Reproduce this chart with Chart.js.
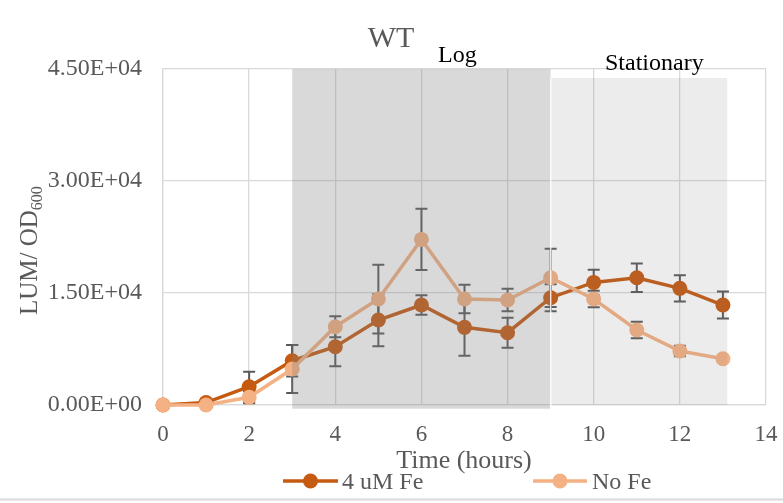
<!DOCTYPE html>
<html>
<head>
<meta charset="utf-8">
<script src="https://cdn.jsdelivr.net/npm/chart.js@4.4.1/dist/chart.umd.min.js"></script>
<style>
  html, body { margin: 0; padding: 0; background: #fff; }
  #wrap { width: 783px; height: 503px; }
</style>
</head>
<body>
<div id="wrap"><canvas id="wtChart" width="783" height="503"></canvas></div>
<script>
// time points (hours)
const hours = [0, 1, 2, 3, 4, 5, 6, 7, 8, 9, 10, 11, 12, 13];

// 4 uM Fe
const fe4Values = [0, 330, 2450, 5930, 7800, 11380, 13390, 10400, 9680, 14370, 16420, 17040, 15620, 13390];
const fe4Err    = [0, 0, 2000, 2100, 2600, 3500, 1300, 3800, 2000, 1800, 1700, 1900, 1750, 1800];

// No Fe
const noFeValues = [0, 0, 1030, 4820, 10480, 14190, 22180, 14190, 14060, 17040, 14190, 10040, 7230, 6200];
const noFeErr    = [0, 0, 800, 3200, 1400, 4600, 4100, 1900, 1500, 3900, 1100, 1100, 700, 300];

// growth phases: [start hour, end hour, top value, bottom value]
const logPhase = [3, 9, 45000, -500];
const stationaryPhase = [9, 13.1, 43800, 0];

const xTicks = [0, 2, 4, 6, 8, 10, 12, 14];
const yTicks = [0, 15000, 30000, 45000];

const serif = '"Liberation Serif", "Times New Roman", serif';
const greyText = '#595959';
const darkOrange = '#C55A11';
const lightOrange = '#F4B183';

function sciLabel(v) {
    if (v === 0) return '0.00E+00';
    const e = Math.floor(Math.log10(Math.abs(v)));
    const m = v / Math.pow(10, e);
    return m.toFixed(2) + 'E' + (e < 0 ? '-' : '+') + String(Math.abs(e)).padStart(2, '0');
}

function toPoints(vals) {
    return hours.map(function (h, i) { return { x: h, y: vals[i] }; });
}

const errorBars = {
    id: 'errorBars',
    beforeDatasetsDraw: function (chart) {
        const ctx = chart.ctx;
        const xs = chart.scales.x, ys = chart.scales.y;
        const sets = [[fe4Values, fe4Err], [noFeValues, noFeErr]];
        ctx.save();
        ctx.strokeStyle = greyText;
        ctx.lineWidth = 2;
        sets.forEach(function (s) {
            hours.forEach(function (h, i) {
                const err = s[1][i];
                if (!err) return;
                const px = xs.getPixelForValue(h);
                const top = ys.getPixelForValue(s[0][i] + err);
                const bot = ys.getPixelForValue(s[0][i] - err);
                ctx.beginPath();
                ctx.moveTo(px, top); ctx.lineTo(px, bot);
                ctx.moveTo(px - 6, top); ctx.lineTo(px + 6, top);
                ctx.moveTo(px - 6, bot); ctx.lineTo(px + 6, bot);
                ctx.stroke();
            });
        });
        ctx.restore();
    }
};

const phaseShading = {
    id: 'phaseShading',
    afterDatasetsDraw: function (chart) {
        const ctx = chart.ctx;
        const xs = chart.scales.x, ys = chart.scales.y;
        function band(p, color) {
            const x0 = xs.getPixelForValue(p[0]);
            const x1 = xs.getPixelForValue(p[1]);
            const y0 = ys.getPixelForValue(p[2]);
            const y1 = ys.getPixelForValue(p[3]);
            ctx.fillStyle = color;
            ctx.fillRect(x0, y0, x1 - x0, y1 - y0);
        }
        ctx.save();
        band(logPhase, 'rgba(128,128,128,0.3)');
        band(stationaryPhase, 'rgba(128,128,128,0.15)');
        // thin white seam between the two phases
        const xs9 = xs.getPixelForValue(stationaryPhase[0]);
        ctx.fillStyle = '#fff';
        ctx.fillRect(xs9 - 0.5, ys.getPixelForValue(stationaryPhase[2]), 1.2,
            ys.getPixelForValue(logPhase[3]) - ys.getPixelForValue(stationaryPhase[2]));
        ctx.restore();
    }
};

const annotations = {
    id: 'annotations',
    afterDraw: function (chart) {
        const ctx = chart.ctx;
        ctx.save();

        // title
        ctx.fillStyle = greyText;
        ctx.font = '30px ' + serif;
        ctx.textAlign = 'center';
        ctx.textBaseline = 'alphabetic';
        ctx.fillText('WT', 391, 47);

        // phase labels
        ctx.fillStyle = '#000';
        ctx.font = '24px ' + serif;
        ctx.textAlign = 'left';
        ctx.fillText('Log', 438, 62);
        ctx.fillText('Stationary', 605, 70);

        // x axis title
        ctx.fillStyle = greyText;
        ctx.font = '26px ' + serif;
        ctx.textAlign = 'center';
        ctx.fillText('Time (hours)', 464, 468);

        // y axis title with subscript
        ctx.save();
        ctx.translate(37, 315);
        ctx.rotate(-Math.PI / 2);
        ctx.textAlign = 'left';
        ctx.font = '25px ' + serif;
        const main = 'LUM/ OD';
        ctx.fillText(main, 0, 0);
        const w = ctx.measureText(main).width;
        ctx.font = '16px ' + serif;
        ctx.fillText('600', w, 5);
        ctx.restore();

        // legend
        const items = [
            { label: '4 uM Fe', color: darkOrange, x0: 283, x1: 338, tx: 342 },
            { label: 'No Fe', color: lightOrange, x0: 533, x1: 587, tx: 592 }
        ];
        ctx.font = '24px ' + serif;
        ctx.textAlign = 'left';
        items.forEach(function (it) {
            ctx.strokeStyle = it.color;
            ctx.lineWidth = 3.5;
            ctx.beginPath();
            ctx.moveTo(it.x0, 481); ctx.lineTo(it.x1, 481);
            ctx.stroke();
            ctx.fillStyle = it.color;
            ctx.beginPath();
            ctx.arc((it.x0 + it.x1) / 2, 481, 7.5, 0, Math.PI * 2);
            ctx.fill();
            ctx.fillStyle = greyText;
            ctx.fillText(it.label, it.tx, 489);
        });

        // outer frame line at the bottom
        ctx.fillStyle = '#D9D9D9';
        ctx.fillRect(0, 498.5, 783, 2);

        ctx.restore();
    }
};

const ctx = document.getElementById('wtChart').getContext('2d');

new Chart(ctx, {
    type: 'line',
    data: {
        datasets: [
            {
                label: '4 uM Fe',
                data: toPoints(fe4Values),
                borderColor: darkOrange,
                backgroundColor: darkOrange,
                borderWidth: 3.5,
                pointRadius: 7.5,
                pointBorderWidth: 0,
                pointBackgroundColor: darkOrange,
                tension: 0,
                clip: false,
                order: 1
            },
            {
                label: 'No Fe',
                data: toPoints(noFeValues),
                borderColor: lightOrange,
                backgroundColor: lightOrange,
                borderWidth: 3.5,
                pointRadius: 7.5,
                pointBorderWidth: 0,
                pointBackgroundColor: lightOrange,
                tension: 0,
                clip: false,
                order: 0
            }
        ]
    },
    options: {
        responsive: false,
        animation: false,
        layout: {
            padding: { top: 69, right: 17, bottom: 0, left: 0 }
        },
        plugins: {
            legend: { display: false },
            title: { display: false },
            tooltip: { enabled: false }
        },
        scales: {
            x: {
                type: 'linear',
                min: 0,
                max: 14,
                afterBuildTicks: function (scale) {
                    scale.ticks = xTicks.map(function (v) { return { value: v }; });
                },
                afterFit: function (scale) {
                    scale.height = 98;
                    scale.paddingLeft = 0;
                    scale.paddingRight = 0;
                },
                ticks: {
                    color: greyText,
                    font: { family: serif, size: 23 },
                    padding: 16,
                    maxRotation: 0
                },
                grid: {
                    color: '#D9D9D9',
                    lineWidth: 1.3,
                    drawTicks: false
                },
                border: { color: '#D9D9D9', width: 1.3 }
            },
            y: {
                min: 0,
                max: 45000,
                afterBuildTicks: function (scale) {
                    scale.ticks = yTicks.map(function (v) { return { value: v }; });
                },
                afterFit: function (scale) {
                    scale.width = 163;
                    scale.paddingTop = 0;
                    scale.paddingBottom = 0;
                },
                ticks: {
                    color: greyText,
                    font: { family: serif, size: 24 },
                    padding: 21,
                    callback: function (v) { return sciLabel(v); }
                },
                grid: {
                    color: '#D9D9D9',
                    lineWidth: 1.3,
                    drawTicks: false
                },
                border: { color: '#D9D9D9', width: 1.3 }
            }
        }
    },
    plugins: [errorBars, phaseShading, annotations]
});
</script>
</body>
</html>
